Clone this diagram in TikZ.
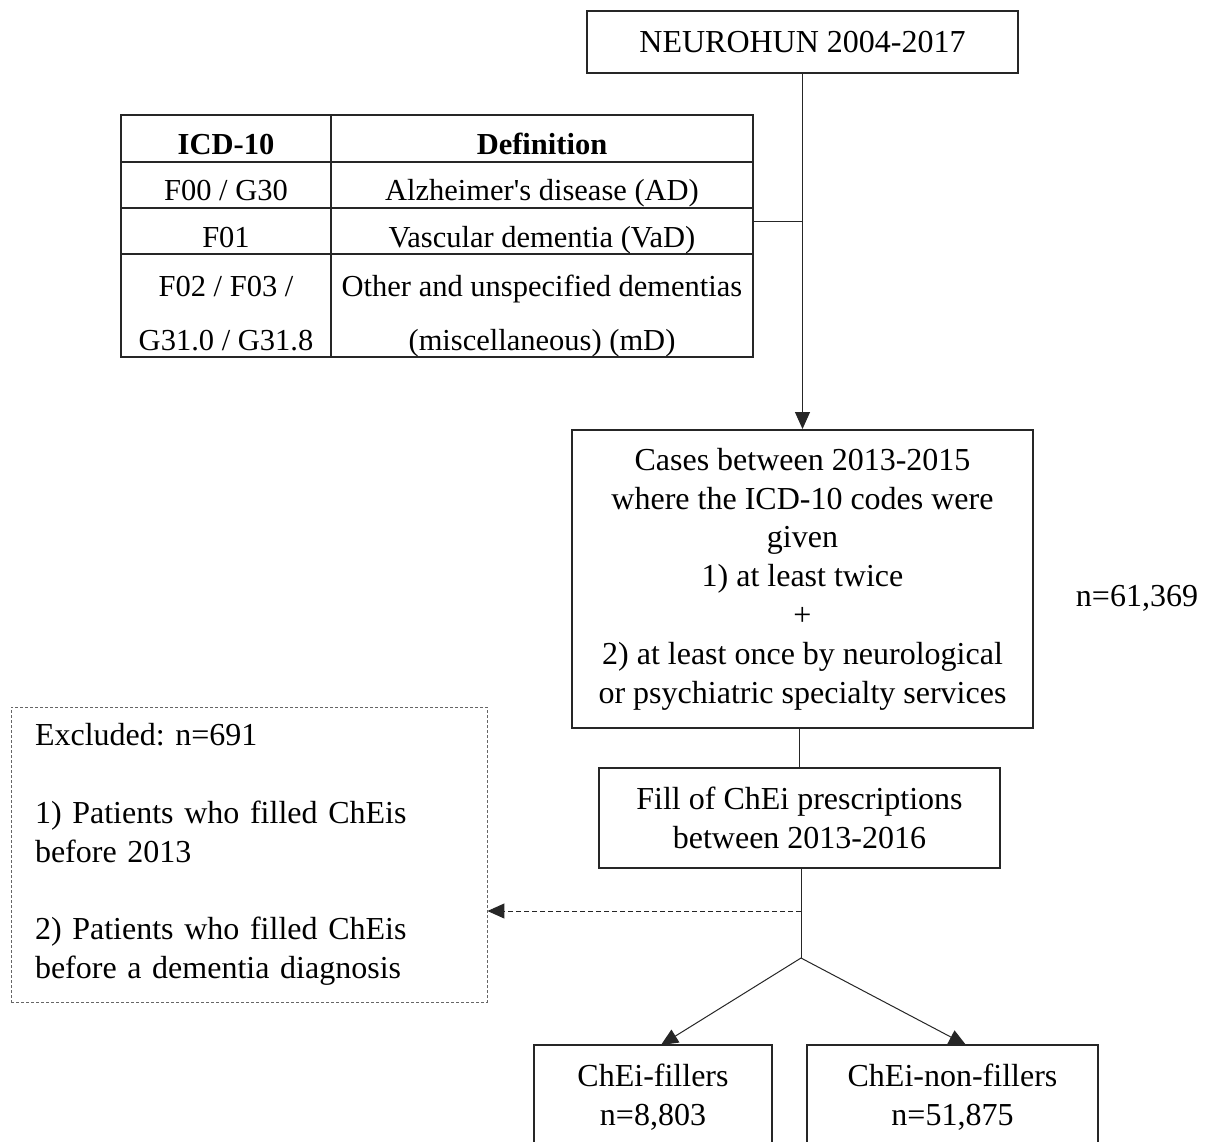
\documentclass[tikz,border=0pt]{standalone}
\usepackage{fontspec}
\setmainfont{Liberation Serif}
\usetikzlibrary{arrows.meta}
\frenchspacing
\begin{document}
\begin{tikzpicture}[x=1pt,y=-1pt,
  every node/.style={font=\fontsize{32}{38.8}\selectfont, inner sep=0pt},
  box/.style={draw=black!85, rectangle, align=center},
  tcell/.style={font=\fontsize{30.5}{36}\selectfont, anchor=base},
  conn/.style={draw=black!85, line width=1pt},
  tip/.style={-{Triangle[length=17pt,width=15pt]}}
]
\useasboundingbox (0,0) rectangle (1213,1141);
\clip (0,0) rectangle (1213,1141);
\fill[white] (0,0) rectangle (1213,1141);

% top box
\node[box, line width=2pt, minimum width=431pt, minimum height=62pt] (top) at (802.5,42) {NEUROHUN 2004-2017};

% table
\node[draw=black!85, line width=1.5pt, minimum width=632pt, minimum height=242pt] (tbl) at (437,236) {};
\draw[black!85, line width=1.2pt] (331,115) -- (331,357)
  (121,162) -- (753,162) (121,208) -- (753,208) (121,254) -- (753,254);
\node[tcell, font=\fontsize{30.5}{36}\selectfont\bfseries] (h1) at (226,154) {ICD-10};
\node[tcell, font=\fontsize{30.5}{36}\selectfont\bfseries] (h2) at (542,154) {Definition};
\node[tcell] (c11) at (226,200) {F00 / G30};
\node[tcell] (c12) at (542,200) {Alzheimer\textquotesingle s disease (AD)};
\node[tcell] (c21) at (226,247) {F01};
\node[tcell] (c22) at (542,247) {Vascular dementia (VaD)};
\node[tcell] (c31) at (226,296) {F02 / F03 /};
\node[tcell] (c32) at (542,296) {Other and unspecified dementias};
\node[tcell] (c41) at (226,350) {G31.0 / G31.8};
\node[tcell] (c42) at (542,350) {(miscellaneous) (mD)};

% cases box
\node[box, line width=2pt, minimum width=461pt, minimum height=298pt] (cases) at (802.5,579)
  {Cases between 2013-2015\\where the ICD-10 codes were\\given\\1) at least twice\\+\\2) at least once by neurological\\or psychiatric specialty services};
\node (n1) at (1137,598) {n=61,369};

% fill box
\node[box, line width=1.3pt, minimum width=401pt, minimum height=100pt] (fill) at (799.5,818)
  {Fill of ChEi prescriptions\\between 2013-2016};

% excluded box
\node[draw=black!60, dash pattern=on 3pt off 2pt, line width=0.9pt, rectangle, align=left,
  text width=428pt, inner xsep=24pt, minimum width=476pt, minimum height=295pt] (excl) at (249,854.5)
  {Excluded: n=691\\[38.8pt]1) Patients who filled ChEis\\before 2013\\[38.8pt]2) Patients who filled ChEis\\before a dementia diagnosis};

% bottom boxes
\node[box, line width=1.2pt, minimum width=238pt, minimum height=104pt] (fa) at (653,1097) {ChEi-fillers\\n=8,803};
\node[box, line width=1.2pt, minimum width=291pt, minimum height=104pt] (fb) at (952.5,1097) {ChEi-non-fillers\\n=51,875};

% connectors
\coordinate (tj) at (802,221);
\draw[conn, tip] (top.south) -- (cases.north);
\draw[conn] (tbl.east |- tj) -- (tj);
\draw[conn] (fill.north |- cases.south) -- (fill.north);
\coordinate (br) at (801,958);
\coordinate (dj) at (801,911);
\coordinate (a1) at (661,1045);
\coordinate (a2) at (966,1045);
\draw[conn] (fill.south -| br) -- (br);
\draw[conn, tip, dash pattern=on 5pt off 3pt] (dj) -- (excl.east |- dj);
\draw[conn, tip] (br) -- (a1);
\draw[conn, tip] (br) -- (a2);
\end{tikzpicture}
\end{document}
